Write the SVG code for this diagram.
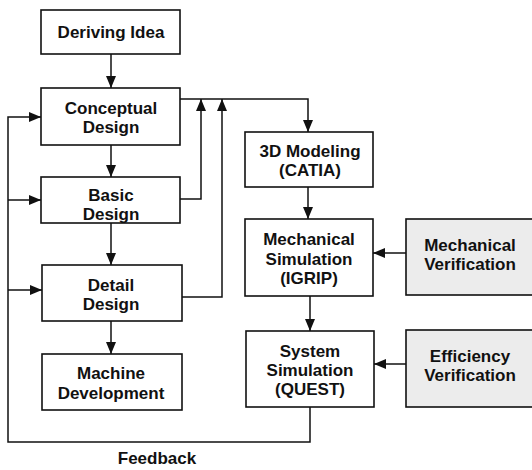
<svg xmlns="http://www.w3.org/2000/svg" width="532" height="470" viewBox="0 0 532 470">
<style>
.box{fill:#fff;stroke:#111;stroke-width:1.6}
.gray{fill:#ececec;stroke:#111;stroke-width:1.6}
.t{font-family:"Liberation Sans",Arial,sans-serif;font-weight:bold;font-size:17px;fill:#111;text-anchor:middle}
.c{fill:none;stroke:#111;stroke-width:1.5}
</style>
<defs>
<marker id="ah" markerWidth="12" markerHeight="10" refX="12" refY="5" orient="auto" markerUnits="userSpaceOnUse" viewBox="0 0 12 10">
<path d="M0,0 L12,5 L0,10 Z" fill="#111"/>
</marker>
</defs>
<rect width="532" height="470" fill="#fff"/>
<g id="connectors">
<path class="c" d="M111,54 V88" marker-end="url(#ah)"/>
<path class="c" d="M111,145 V177" marker-end="url(#ah)"/>
<path class="c" d="M111,223 V265" marker-end="url(#ah)"/>
<path class="c" d="M111,321 V354" marker-end="url(#ah)"/>
<path class="c" d="M180,99 H308 V132" marker-end="url(#ah)"/>
<path class="c" d="M180,199 H201 V99" marker-end="url(#ah)"/>
<path class="c" d="M182,297 H222 V99" marker-end="url(#ah)"/>
<path class="c" d="M308,187 V219" marker-end="url(#ah)"/>
<path class="c" d="M310,296 V331" marker-end="url(#ah)"/>
<path class="c" d="M406,253 H373" marker-end="url(#ah)"/>
<path class="c" d="M406,364 H374" marker-end="url(#ah)"/>
<path class="c" d="M310,407 V442 H8 V117 H41" marker-end="url(#ah)"/>
<path class="c" d="M8,200 H41" marker-end="url(#ah)"/>
<path class="c" d="M8,290 H42" marker-end="url(#ah)"/>
</g>
<g id="deriving-idea"><rect class="box" x="41" y="10" width="139" height="44"/><text class="t" x="111" y="38">Deriving Idea</text></g>
<g id="conceptual-design"><rect class="box" x="41" y="88" width="139" height="57"/><text class="t" x="111" y="114">Conceptual</text><text class="t" x="111" y="133">Design</text></g>
<g id="basic-design"><rect class="box" x="41" y="177" width="139" height="46"/><text class="t" x="111" y="201">Basic</text><text class="t" x="111" y="220">Design</text></g>
<g id="detail-design"><rect class="box" x="42" y="265" width="140" height="56"/><text class="t" x="111" y="291">Detail</text><text class="t" x="111" y="310">Design</text></g>
<g id="machine-development"><rect class="box" x="42" y="354" width="140" height="56"/><text class="t" x="111" y="379">Machine</text><text class="t" x="111" y="399">Development</text></g>
<g id="3d-modeling"><rect class="box" x="245" y="132" width="128" height="55"/><text class="t" x="310" y="157">3D Modeling</text><text class="t" x="310" y="176">(CATIA)</text></g>
<g id="mechanical-simulation"><rect class="box" x="245" y="219" width="128" height="77"/><text class="t" x="309" y="245">Mechanical</text><text class="t" x="309" y="265">Simulation</text><text class="t" x="309" y="284">(IGRIP)</text></g>
<g id="system-simulation"><rect class="box" x="246" y="331" width="128" height="76"/><text class="t" x="310" y="357">System</text><text class="t" x="310" y="376">Simulation</text><text class="t" x="310" y="395">(QUEST)</text></g>
<g id="mechanical-verification"><rect class="gray" x="406" y="219" width="130" height="76"/><text class="t" x="470" y="251">Mechanical</text><text class="t" x="470" y="270">Verification</text></g>
<g id="efficiency-verification"><rect class="gray" x="406" y="330" width="130" height="77"/><text class="t" x="470" y="362">Efficiency</text><text class="t" x="470" y="381">Verification</text></g>
<text class="t" x="157" y="464">Feedback</text>
</svg>
